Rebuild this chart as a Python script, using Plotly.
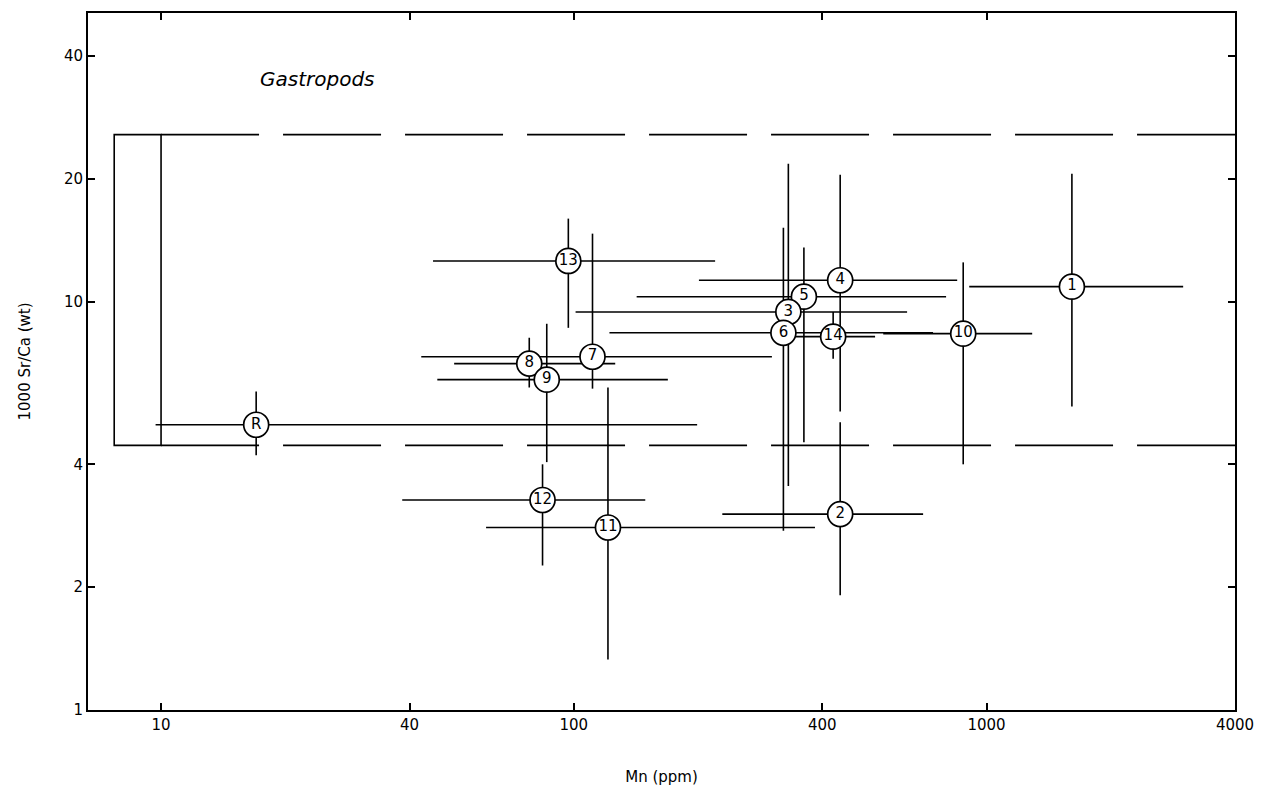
import plotly.graph_objects as go

# Sample labels and their Mn / Sr-Ca values with ranges
labels = ["R", "1", "2", "4", "5", "3", "6", "14", "10", "7", "8", "9", "11", "12", "13"]
mn     = [17.0, 1610, 442, 442, 361, 331, 322, 425, 878, 111, 78.0, 86.0, 121, 84.0, 97.0]
mn_lo  = [9.7, 908, 229, 201, 142, 101, 122, 344, 562, 42.7, 51.3, 46.7, 61.3, 38.4, 45.6]
mn_hi  = [199, 2995, 702, 849, 798, 642, 742, 537, 1290, 302, 126, 169, 384, 149, 220]
sr     = [5.0, 10.9, 3.02, 11.3, 10.3, 9.45, 8.40, 8.22, 8.36, 7.34, 7.06, 6.45, 2.80, 3.27, 12.6]
sr_lo  = [4.21, 5.54, 1.91, 5.39, 4.53, 3.54, 2.75, 7.26, 4.00, 6.13, 6.17, 4.05, 1.33, 2.26, 8.64]
sr_hi  = [6.03, 20.6, 5.07, 20.5, 13.6, 21.8, 15.2, 9.45, 12.5, 14.7, 8.17, 8.84, 6.17, 4.00, 16.0]

# Reference field (modern range) box and its Sr/Ca limits
box_mn = [7.7, 10.0]
box_sr = [4.45, 25.7]
x_max = 4000

x_ticks = [10, 40, 100, 400, 1000, 4000]
y_ticks = [1, 2, 4, 10, 20, 40]

font_family = "DejaVu Sans"

fig = go.Figure()

fig.add_trace(go.Scatter(
    x=mn, y=sr, mode="markers+text", text=labels,
    textposition="middle center",
    textfont=dict(family=font_family, size=15, color="black"),
    marker=dict(size=25, color="white", line=dict(color="black", width=1.7)),
    error_x=dict(type="data", symmetric=False,
                 array=[h - v for h, v in zip(mn_hi, mn)],
                 arrayminus=[v - l for v, l in zip(mn, mn_lo)],
                 color="black", thickness=1.6, width=0),
    error_y=dict(type="data", symmetric=False,
                 array=[h - v for h, v in zip(sr_hi, sr)],
                 arrayminus=[v - l for v, l in zip(sr, sr_lo)],
                 color="black", thickness=1.6, width=0),
    showlegend=False, cliponaxis=False,
))

shapes = [
    dict(type="rect", xref="x", yref="y", x0=box_mn[0], x1=box_mn[1],
         y0=box_sr[0], y1=box_sr[1], line=dict(color="black", width=1.6), layer="below"),
]
for lvl in box_sr:
    shapes.append(dict(type="line", xref="x", yref="y", x0=box_mn[1], x1=x_max,
                       y0=lvl, y1=lvl, line=dict(color="black", width=1.6, dash="98px,24px"),
                       layer="below"))

fig.update_layout(
    width=1276, height=794,
    margin=dict(l=88, r=41, t=11, b=82),
    paper_bgcolor="white", plot_bgcolor="white",
    font=dict(family=font_family, color="black"),
    shapes=shapes,
    annotations=[
        dict(text="<i>Gastropods</i>", x=0.2005, y=0.905, xref="paper", yref="paper",
             showarrow=False, font=dict(family=font_family, size=20, color="black"),
             xanchor="center", yanchor="middle"),
    ],
)

fig.update_xaxes(
    type="log", range=[0.823, 3.602],
    tickvals=x_ticks, ticktext=[str(v) for v in x_ticks],
    ticks="inside", ticklen=7, tickwidth=1.5, tickcolor="black",
    showline=True, linewidth=2, linecolor="black", mirror="ticks",
    showgrid=False, zeroline=False,
    tickfont=dict(size=15, family=font_family),
    title=dict(text="Mn (ppm)", font=dict(size=15, family=font_family), standoff=38),
)
fig.update_yaxes(
    type="log", range=[0, 1.708],
    tickvals=y_ticks, ticktext=[str(v) for v in y_ticks],
    ticks="inside", ticklen=7, tickwidth=1.5, tickcolor="black",
    showline=True, linewidth=2, linecolor="black", mirror="ticks",
    showgrid=False, zeroline=False,
    tickfont=dict(size=15, family=font_family),
    title=dict(text="1000 Sr/Ca (wt)", font=dict(size=15, family=font_family), standoff=30),
)

fig.write_html("out.html")
